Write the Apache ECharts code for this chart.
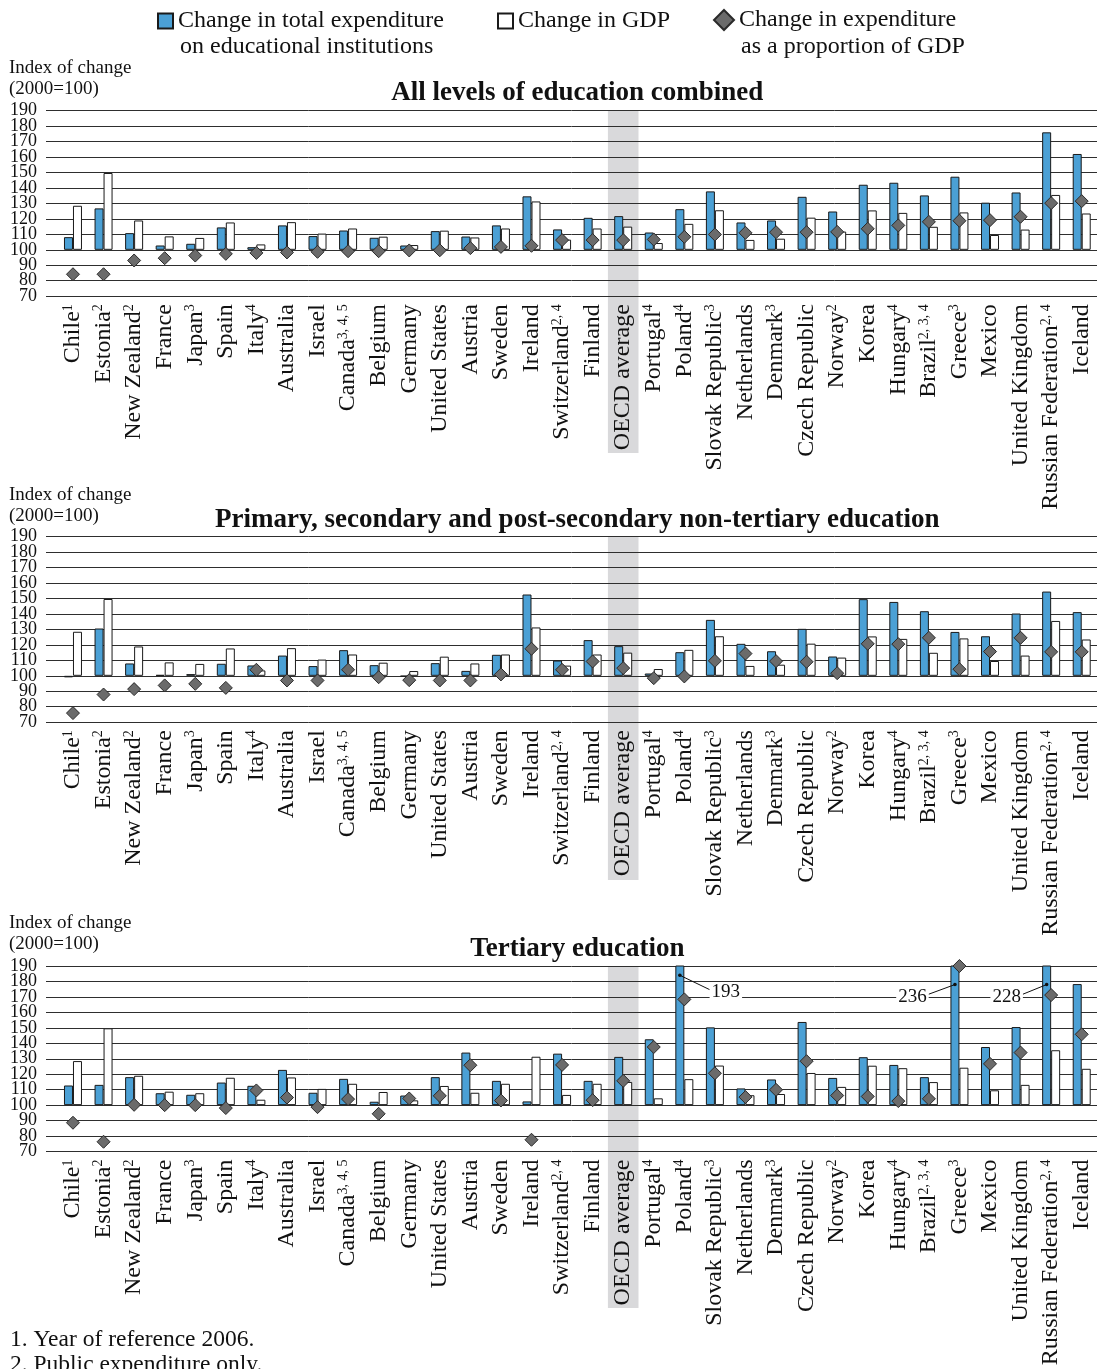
<!DOCTYPE html>
<html><head><meta charset="utf-8">
<script src="https://cdn.jsdelivr.net/npm/echarts@6/dist/echarts.min.js"></script>
<style>html,body{margin:0;padding:0;background:#fff}#c{width:1101px;height:1369px}</style>
</head><body><div id="c"></div>
<script>
// ---------------- DATA ----------------
const countries = ['Chile','Estonia','New Zealand','France','Japan','Spain','Italy','Australia','Israel','Canada',
  'Belgium','Germany','United States','Austria','Sweden','Ireland','Switzerland','Finland','OECD average','Portugal',
  'Poland','Slovak Republic','Netherlands','Denmark','Czech Republic','Norway','Korea','Hungary','Brazil','Greece',
  'Mexico','United Kingdom','Russian Federation','Iceland'];
const notes = ['1','2','2','','3','','4','','','3, 4, 5',
  '','','','','','','2, 4','','','4',
  '4','3','','3','','2','','4','2, 3, 4','3',
  '','','2, 4',''];
// Change in GDP (same in every panel)
const gdp = [128.5,149.7,119,108.7,107.7,117.7,103.5,117.9,110.5,113.8,
  108.5,103.1,112.4,108,113.8,131.3,106.6,113.8,115,104.4,
  116.8,125.6,106.4,107.2,120.8,111.8,125.5,123.9,114.9,124.2,
  109.6,113.1,135.5,123.5];
// All levels of education combined
const expAll = [108.2,126.8,110.8,102.8,103.9,114.5,101.7,115.8,108.9,112.5,
  107.8,102.8,112.1,108.6,115.8,134.6,113.2,120.7,121.8,111.2,
  126.3,137.8,117.7,119,134.3,124.8,142.1,143.4,135.2,147.3,
  130.5,137.1,176,162];
const propAll = [84.2,84.2,93.1,94.6,96.3,97.4,98,98.3,98.7,99.1,
  99.1,99.6,99.7,101.1,101.9,102.6,106.3,106.3,106.3,106.7,
  108.4,109.9,111,111.4,111.4,111.6,113.6,115.8,118.1,118.8,
  119.2,121.4,130.2,131.5];
// Primary, secondary and post-secondary non-tertiary education
const expPrimary = [99,130.6,108,100.6,101.1,107.8,106.7,113.1,106.3,116.6,
  106.9,99.6,108.2,103.2,113.6,152.6,109.9,123.1,119.2,101.5,
  115.3,136.2,120.7,115.9,130.4,112.5,149.6,147.8,141.8,128.4,
  125.6,140.3,154.5,141.2];
const propPrimary = [75.9,87.9,91.4,93.8,94.8,92.2,103.9,97,97,103.9,
  99.1,97.2,97,97,100.9,117.5,103.9,109.3,105,98.5,
  99.6,109.7,114.4,109.5,109.1,101.7,120.7,120.5,124.6,104.3,
  115.7,124.6,115.5,115.5];
// Tertiary education
const expTertiary = [112.7,113.1,118.1,107.7,106.7,114.6,112.5,122.8,108,117,
  102.2,106.2,118.1,134,115.7,102.4,133.3,115.7,131.2,142.6,
  193,150.3,110.8,116.6,153.8,117.6,131,126,118.1,236,
  137.6,150.5,228,178.3];
const propTertiary = [88.6,76.3,100.2,100,100,98.1,109.5,104.9,98.7,103.9,
  94.4,104.3,106,125.8,103,77.6,126,103.2,115.7,137.6,
  168.4,120.6,105.2,109.9,128.4,106.2,105.6,102.6,104.1,190,
  126.7,134,171.2,145.8];
// Bars that run off the top of the tertiary panel, with their printed values
const offScale = [
  {country:'Poland', value:193},
  {country:'Greece', value:236},
  {country:'Russian Federation', value:228}
];
const yMin = 70, yMax = 190, yStep = 10, base = 100;

const seriesNames = ['Change in total expenditure on educational institutions','Change in GDP','Change in expenditure as a proportion of GDP'];
const titles = ['All levels of education combined','Primary, secondary and post-secondary non-tertiary education','Tertiary education'];
const axisName = ['Index of change','(2000=100)'];
const footnotes = ['1. Year of reference 2006.','2. Public expenditure only.'];

// ---------------- LAYOUT / STYLE ----------------
const FONT = 'Liberation Serif';
const BLUE = '#4ba0d5';
const panels = [
  {exp: expAll, prop: propAll, top: 110.7, bandBottom: 453, titleY: 93, nameY: 68},
  {exp: expPrimary, prop: propPrimary, top: 536.7, bandBottom: 880, titleY: 520, nameY: 495},
  {exp: expTertiary, prop: propTertiary, top: 966, bandBottom: 1308, titleY: 949, nameY: 923}
];
const plotH = 185.5, plotLeft = 57.7, lineLeft = 46, plotRight = 4;
const W = 1101;

const chart = echarts.init(document.getElementById('c'), null, {renderer: 'canvas'});

const tickLabelStyle = {fontFamily: FONT, fontSize: 18, color: '#111', margin: 9};
const grid = [], xAxis = [], yAxis = [], series = [];
panels.forEach((p, k) => {
  // gridline grid (wider on the left, carries the tick labels)
  grid.push({left: lineLeft, right: plotRight, top: p.top, height: plotH});
  xAxis.push({type: 'category', gridIndex: 3*k, data: countries, show: false});
  // two label axes sharing the scale so closely packed labels are never dropped
  yAxis.push({type: 'value', gridIndex: 3*k, min: yMin, max: yMax, interval: yStep, position: 'left',
    axisLine: {show: false}, axisTick: {show: false},
    axisLabel: Object.assign({showMinLabel: true, showMaxLabel: true,
      formatter: v => ((v - yMin) % (2 * yStep) === 0 ? String(v) : '')}, tickLabelStyle),
    splitLine: {show: true, lineStyle: {color: '#2e2e2e', width: 1}}});
  series.push({type: 'scatter', xAxisIndex: 3*k, yAxisIndex: yAxis.length - 1, data: [], silent: true});
  yAxis.push({type: 'value', gridIndex: 3*k, min: yMin, max: yMax, interval: yStep, position: 'left', offset: 0,
    axisLine: {show: false}, axisTick: {show: false}, splitLine: {show: false},
    axisLabel: Object.assign({
      formatter: v => ((v - yMin) % (2 * yStep) !== 0 ? String(v) : '')}, tickLabelStyle)});
  const yOdd = yAxis.length - 1;
  series.push({type: 'scatter', xAxisIndex: 3*k, yAxisIndex: yOdd, data: [], silent: true});
  // OECD highlight band grid
  grid.push({left: plotLeft, right: plotRight, top: p.top, height: p.bandBottom - p.top});
  xAxis.push({type: 'category', gridIndex: 3*k+1, data: countries, show: false});
  yAxis.push({type: 'value', gridIndex: 3*k+1, min: 0, max: 1, show: false});
  const yBand = yAxis.length - 1;
  series.push({type: 'bar', name: 'band', xAxisIndex: 3*k+1, yAxisIndex: yBand, silent: true, z: -1,
    barWidth: '100%', itemStyle: {color: '#d9d9db'},
    data: countries.map(c => c === 'OECD average' ? 1 : null)});
  // main grid
  grid.push({left: plotLeft, right: plotRight, top: p.top, height: plotH});
  xAxis.push({type: 'category', gridIndex: 3*k+2, data: countries,
    axisLine: {show: false}, axisTick: {show: false},
    axisLabel: {interval: 0, rotate: 90, margin: 8,
      formatter: (v, i) => '{n|' + v + '}' + (notes[i] ? '{s|' + notes[i] + '}' : ''),
      rich: {
        n: {fontFamily: FONT, fontSize: 24, color: '#111'},
        s: {fontFamily: FONT, fontSize: 14, color: '#111', verticalAlign: 'top'}
      }}});
  yAxis.push({type: 'value', gridIndex: 3*k+2, min: yMin - base, max: yMax - base, interval: yStep, show: false});
  const yMain = yAxis.length - 1;
  series.push({type: 'bar', name: seriesNames[0], xAxisIndex: 3*k+2, yAxisIndex: yMain,
    barWidth: 9, barGap: '0%', z: 2,
    itemStyle: {color: BLUE, borderColor: '#1a1a1a', borderWidth: 1},
    data: p.exp.map(v => v - base)});
  series.push({type: 'bar', name: seriesNames[1], xAxisIndex: 3*k+2, yAxisIndex: yMain,
    barWidth: 9, barGap: '0%', z: 2,
    itemStyle: {color: '#ffffff', borderColor: '#1a1a1a', borderWidth: 1},
    data: gdp.map(v => v - base)});
  series.push({type: 'scatter', name: seriesNames[2], xAxisIndex: 3*k+2, yAxisIndex: yMain,
    symbol: 'diamond', symbolSize: 13, z: 3,
    itemStyle: {color: '#6b6b6b', borderColor: '#2a2a2a', borderWidth: 1, opacity: 1},
    data: p.prop.map(v => v - base)});
});

const legendText = {fontFamily: FONT, fontSize: 24, color: '#111'};
const legend = [
  {data: [seriesNames[0]], left: 157, top: 9, padding: 0, icon: 'rect', itemWidth: 15, itemHeight: 15,
    selectedMode: false, textStyle: legendText, formatter: () => 'Change in total expenditure'},
  {data: [seriesNames[1]], left: 497, top: 9, padding: 0, icon: 'rect', itemWidth: 15, itemHeight: 15,
    selectedMode: false, textStyle: legendText, formatter: () => 'Change in GDP'},
  {data: [seriesNames[2]], left: 713, top: 8, padding: 0, icon: 'diamond', itemWidth: 20, itemHeight: 20,
    selectedMode: false, textStyle: legendText, formatter: () => 'Change in expenditure'}
];

chart.setOption({animation: false, backgroundColor: '#fff', grid, xAxis, yAxis, series, legend});

// ---------------- TEXTS & CALLOUTS ----------------
const g = [];
const txt = (x, y, text, opt) => g.push({type: 'text', x, y, silent: true,
  style: Object.assign({text, fontFamily: FONT, fontSize: 19, fill: '#111', verticalAlign: 'middle', align: 'left'}, opt || {})});
txt(180, 47, 'on educational institutions', {fontSize: 24});
txt(741, 47, 'as a proportion of GDP', {fontSize: 24});
panels.forEach((p, k) => {
  txt(9, p.nameY, axisName[0]);
  txt(9, p.nameY + 21, axisName[1]);
  txt(plotLeft + (W - plotRight - plotLeft) / 2, p.titleY, titles[k], {fontSize: 27, fontWeight: 'bold', align: 'center'});
});
txt(10, 1340, footnotes[0], {fontSize: 23.5});
txt(10, 1365, footnotes[1], {fontSize: 23.5});

// callouts for the off-scale tertiary bars
const mainGrid = 8;
const calloutLayout = [ // dot value, label value, label dx (px)
  {dot: 184, lab: 174, dx: 41.5},
  {dot: 178, lab: 170.4, dx: -47},
  {dot: 178, lab: 170.4, dx: -44.5}
];
offScale.forEach((o, j) => {
  const idx = countries.indexOf(o.country);
  const L = calloutLayout[j];
  const pd = chart.convertToPixel({gridIndex: mainGrid}, [idx, L.dot - base]);
  const pl = chart.convertToPixel({gridIndex: mainGrid}, [idx, L.lab - base]);
  const bx = pd[0] - 4.5;
  const lx = pl[0] + L.dx, ly = pl[1];
  const edgeX = L.dx > 0 ? lx - 16 : lx + 16;
  g.push({type: 'line', silent: true, z: 10, shape: {x1: bx, y1: pd[1], x2: edgeX, y2: ly + (L.dx > 0 ? -1 : -2)},
    style: {stroke: '#111', lineWidth: 1}});
  g.push({type: 'circle', silent: true, z: 10, shape: {cx: bx, cy: pd[1], r: 1.8}, style: {fill: '#111'}});
  g.push({type: 'text', silent: true, z: 10, x: lx, y: ly + 1,
    style: {text: String(o.value), fontFamily: FONT, fontSize: 19, fill: '#111', align: 'center', verticalAlign: 'middle',
      backgroundColor: '#fff', padding: [0, 2]}});
});
chart.setOption({graphic: g});
</script>
</body></html>
